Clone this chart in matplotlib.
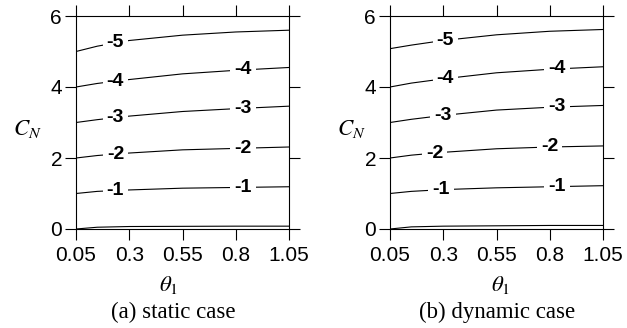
import numpy as np
import matplotlib
matplotlib.use("Agg")
import matplotlib.pyplot as plt

plt.rcParams['font.family'] = ['Liberation Sans', 'DejaVu Sans']
plt.rcParams['mathtext.fontset'] = 'stix'

theta_pts = [0.05, 0.15, 0.3, 0.55, 0.8, 1.05]
levels = [-5, -4, -3, -2, -1, 0]

static_curves = {
    -5: [5.0, 5.15, 5.31, 5.46, 5.55, 5.6],
    -4: [4.0, 4.1, 4.21, 4.37, 4.47, 4.55],
    -3: [3.0, 3.08, 3.18, 3.31, 3.39, 3.46],
    -2: [2.0, 2.07, 2.14, 2.23, 2.27, 2.31],
    -1: [1.0, 1.06, 1.1, 1.15, 1.17, 1.19],
    0: [0.0, 0.05, 0.07, 0.075, 0.08, 0.08],
}
dynamic_curves = {
    -5: [5.08, 5.18, 5.31, 5.47, 5.57, 5.62],
    -4: [4.0, 4.11, 4.23, 4.4, 4.5, 4.57],
    -3: [3.0, 3.09, 3.2, 3.35, 3.43, 3.48],
    -2: [2.0, 2.08, 2.16, 2.26, 2.31, 2.34],
    -1: [1.0, 1.06, 1.11, 1.16, 1.19, 1.22],
    0: [0.0, 0.06, 0.08, 0.09, 0.1, 0.1],
}
static_labels = {-5: [0.235], -4: [0.235, 0.835], -3: [0.235, 0.835],
                 -2: [0.235, 0.835], -1: [0.235, 0.835]}
dynamic_labels = {-5: [0.31], -4: [0.31, 0.835], -3: [0.30, 0.835],
                  -2: [0.26, 0.80], -1: [0.29, 0.835]}

xticks = [0.05, 0.3, 0.55, 0.8, 1.05]
xticklabels = ['0.05', '0.3', '0.55', '0.8', '1.05']
yticks = [0, 2, 4, 6]
captions = ['(a) static case', '(b) dynamic case']

fig = plt.figure(figsize=(6.27, 3.28), dpi=100)
W, H = 627, 328
# (axes left px, curves, labels, caption, C_N x px, theta x px, caption x px)
panels = [(76, static_curves, static_labels, captions[0], 27, 169, 173),
          (390, dynamic_curves, dynamic_labels, captions[1], 351, 501, 497)]

for x0, curves, labels, cap, cnx, thx, cpx in panels:
    ax = fig.add_axes([x0 / W, 1 - 229 / H, 213 / W, 213 / H])
    ax.set_xlim(0.05, 1.05)
    ax.set_ylim(0, 6)
    for lev in levels:
        ax.plot(theta_pts, curves[lev], color='black', lw=0.8, zorder=2,
                solid_capstyle='butt')
        for lx in labels.get(lev, []):
            ly = np.interp(lx, theta_pts, curves[lev])
            ax.text(lx, ly, str(lev), ha='center', va='center', fontsize=14,
                    fontweight='bold', zorder=3,
                    bbox=dict(facecolor='white', edgecolor='none', pad=3))
    ax.set_xticks(xticks)
    ax.set_xticklabels(xticklabels)
    ax.set_yticks(yticks)
    ax.tick_params(axis='both', direction='out', length=8, width=0.8,
                   labelsize=15, pad=4, top=True, right=True,
                   labeltop=False, labelright=False)
    ax.tick_params(axis='y', pad=2)
    for s in ax.spines.values():
        s.set_linewidth(0.8)
    fig.text(cnx / W, 1 - 128 / H, r'$C_N$', fontsize=16.5,
             ha='center', va='center')
    fig.text(thx / W, 1 - 285 / H, r'$\theta_1$', fontsize=16.5,
             ha='center', va='center')
    fig.text(cpx / W, 1 - 312 / H, cap, fontsize=16.5,
             family='Liberation Serif', ha='center', va='center')

fig.savefig('out.png', dpi=100)
